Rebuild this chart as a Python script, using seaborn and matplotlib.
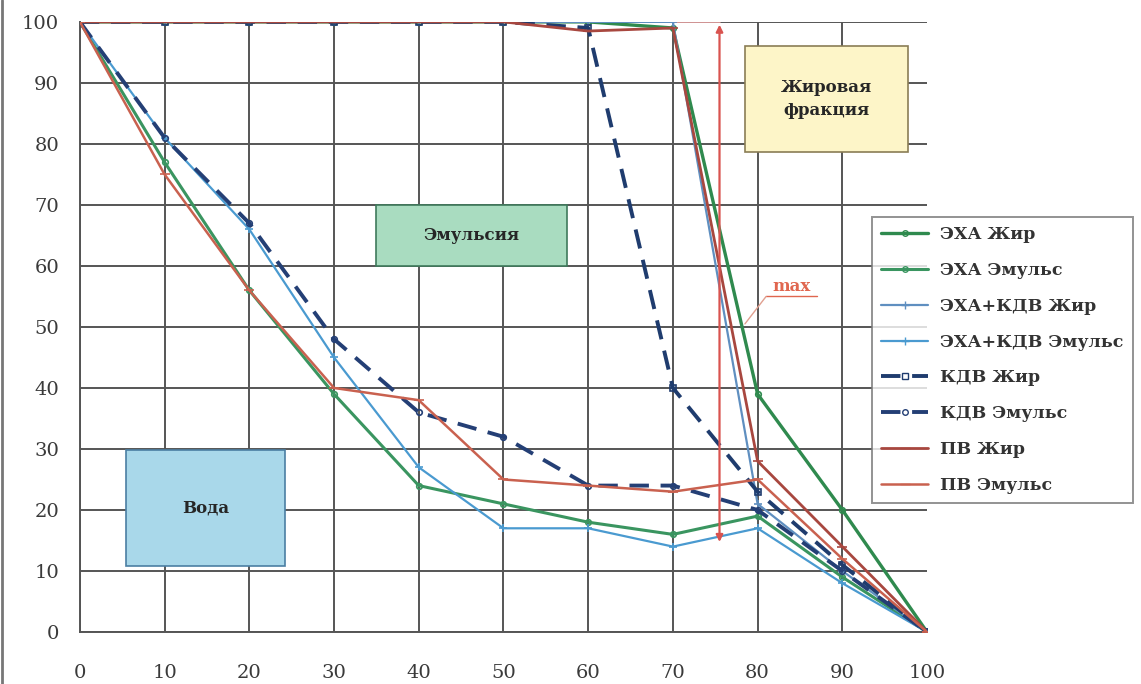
import matplotlib
matplotlib.use("Agg")
import matplotlib.pyplot as plt
import seaborn as sns
import pandas as pd
from matplotlib.patches import Rectangle
from matplotlib.lines import Line2D

x = [0, 10, 20, 30, 40, 50, 60, 70, 80, 90, 100]

eha_fat = [100, 100, 100, 100, 100, 100, 100, 99, 39, 20, 0]
eha_emul = [100, 77, 56, 39, 24, 21, 18, 16, 19, 9, 0]
ehakdv_fat = [100, 100, 100, 100, 100, 100, 100, 100, 21, 10, 0]
ehakdv_emul = [100, 81, 66, 45, 27, 17, 17, 14, 17, 8, 0]
kdv_fat = [100, 100, 100, 100, 100, 100, 99, 40, 23, 11, 0]
kdv_emul = [100, 81, 67, 48, 36, 32, 24, 24, 20, 10, 0]
pv_fat = [100, 100, 100, 100, 100, 100, 98.5, 99, 28, 14, 0]
pv_emul = [100, 75, 56, 40, 38, 25, 24, 23, 25, 12, 0]

labels = ["ЭХА Жир", "ЭХА Эмульс", "ЭХА+КДВ Жир", "ЭХА+КДВ Эмульс",
          "КДВ Жир", "КДВ Эмульс", "ПВ Жир", "ПВ Эмульс"]
series = [eha_fat, eha_emul, ehakdv_fat, ehakdv_emul,
          kdv_fat, kdv_emul, pv_fat, pv_emul]

styles = {
    "ЭХА Жир": dict(color="#2f8a4e", lw=2.4, ls="-", marker="o", ms=4),
    "ЭХА Эмульс": dict(color="#3a9560", lw=2.2, ls="-", marker="o", ms=4),
    "ЭХА+КДВ Жир": dict(color="#5f8fc0", lw=1.6, ls="-", marker="+", ms=6),
    "ЭХА+КДВ Эмульс": dict(color="#4a9ad0", lw=1.6, ls="-", marker="+", ms=6),
    "КДВ Жир": dict(color="#1f3c6e", lw=2.8, ls=(0, (5, 3)), marker="s", ms=4),
    "КДВ Эмульс": dict(color="#243f75", lw=2.8, ls=(0, (5, 3)), marker="o", ms=4),
    "ПВ Жир": dict(color="#a8473f", lw=2.0, ls="-", marker="_", ms=7),
    "ПВ Эмульс": dict(color="#c9614f", lw=1.8, ls="-", marker="_", ms=7),
}

df = pd.DataFrame({
    "x": x * len(labels),
    "y": [v for s in series for v in s],
    "series": [lab for lab in labels for _ in x],
})

sns.set_theme(style="white")
plt.rcParams["font.family"] = ["DejaVu Serif", "Liberation Serif"]

fig = plt.figure(figsize=(11.41, 6.84), dpi=100)
ax = fig.add_axes([0.070, 0.076, 0.7425, 0.892])

for lab in labels:
    st = styles[lab]
    sub = df[df["series"] == lab]
    sns.lineplot(data=sub, x="x", y="y", ax=ax, color=st["color"],
                 linewidth=st["lw"], linestyle=st["ls"], marker=st["marker"],
                 markersize=st["ms"], markeredgecolor=st["color"],
                 markerfacecolor="none" if st["marker"] in ("o", "s") else st["color"],
                 markeredgewidth=1.2, label=lab, legend=False, zorder=3)

ax.set_xlim(0, 100)
ax.set_ylim(0, 100)
ax.set_xticks(range(0, 101, 10))
ax.set_yticks(range(0, 101, 10))
ax.set_xlabel("")
ax.set_ylabel("")
ax.grid(True, color="#555555", linewidth=1.4)
ax.get_xgridlines()[-1].set_visible(False)
for sp in ["top", "right"]:
    ax.spines[sp].set_visible(False)
for sp in ["left", "bottom"]:
    ax.spines[sp].set_color("#555555")
    ax.spines[sp].set_linewidth(1.4)
ax.tick_params(axis="both", which="major", length=7, width=1.3, color="#555555",
               labelsize=14, labelcolor="#3a3a3a", direction="out")
ax.tick_params(axis="y", pad=8)
ax.tick_params(axis="x", pad=16)

# region boxes
boxes = [
    (5.5, 10.8, 18.7, 19.0, "#a9d8ea", "#4b7fa3", "Вода"),
    (35.0, 60.0, 22.5, 10.0, "#a9dcc0", "#3f7a5c", "Эмульсия"),
    (78.5, 78.7, 19.3, 17.3, "#fdf5c8", "#8a7d55", "Жировая\nфракция"),
]
for bx, by, bw, bh, fc, ec, txt in boxes:
    ax.add_patch(Rectangle((bx, by), bw, bh, facecolor=fc, edgecolor=ec,
                           linewidth=1.2, zorder=4))
    ax.text(bx + bw / 2, by + bh / 2, txt, ha="center", va="center",
            fontsize=12, fontweight="bold", color="#262626", zorder=5,
            linespacing=1.5)

# max range arrow
ax.plot([70, 75.5], [100, 100], color="#e8a0a0", lw=1.2, zorder=2)
ax.annotate("", xy=(75.5, 14.3), xytext=(75.5, 100),
            arrowprops=dict(arrowstyle="<|-|>", color="#d9534f", lw=1.6,
                            mutation_scale=10), zorder=4)
ax.text(84.0, 55.3, "max", fontsize=12, fontweight="bold", color="#e0664f",
        ha="center", va="bottom", zorder=5)
ax.plot([81.0, 87.0], [55.0, 55.0], color="#e0664f", lw=1.0, zorder=5)
ax.plot([81.0, 78.5], [55.0, 50.5], color="#e0a090", lw=1.0, zorder=5)

# legend
handles = []
for lab in labels:
    st = styles[lab]
    handles.append(Line2D([], [], color=st["color"], lw=st["lw"],
                          ls=st["ls"], marker=st["marker"], ms=st["ms"],
                          markerfacecolor="none" if st["marker"] in ("o", "s") else st["color"],
                          markeredgecolor=st["color"]))
leg = fig.legend(handles, labels, loc="upper left",
                 bbox_to_anchor=(0.764, 0.683), bbox_transform=fig.transFigure,
                 frameon=True, fancybox=False, edgecolor="#777777",
                 prop=dict(family="DejaVu Serif", weight="bold", size=12.5),
                 labelspacing=1.08, handlelength=2.7, borderpad=0.55,
                 handletextpad=0.7, borderaxespad=0)
leg.get_frame().set_linewidth(1.4)
for t in leg.get_texts():
    t.set_color("#333333")

# left frame edge
fig.add_artist(Line2D([0.002, 0.002], [0, 1], transform=fig.transFigure,
                      color="#777777", lw=2))

fig.savefig("out.png", dpi=100)
